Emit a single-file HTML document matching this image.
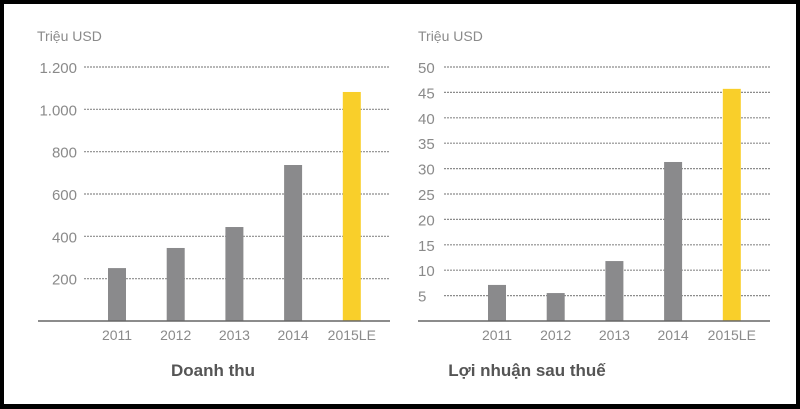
<!DOCTYPE html>
<html><head><meta charset="utf-8"><style>
html,body{margin:0;padding:0;background:#000;}
#wrap{position:relative;width:800px;height:409px;overflow:hidden;background:#000;}
svg{position:absolute;left:0;top:0;}
text{font-family:"Liberation Sans",sans-serif;}
</style></head><body>
<div id="wrap">
<svg id="svg" width="800" height="409">
<rect x="4" y="4" width="792" height="400" fill="#fff"/>
</svg>
</div>
<script>
const categories = ["2011","2012","2013","2014","2015LE"];
const revenueValues = [250, 345, 444, 737, 1082];
const profitValues = [7.1, 5.5, 11.8, 31.3, 45.7];
const revenueTicks = [200, 400, 600, 800, 1000, 1200];
const revenueTickLabels = ["200","400","600","800","1.000","1.200"];
const profitTicks = [5,10,15,20,25,30,35,40,45,50];
const profitTickLabels = ["5","10","15","20","25","30","35","40","45","50"];

const NS = "http://www.w3.org/2000/svg";
const svg = document.getElementById("svg");
function mk(tag, attrs){const e=document.createElementNS(NS,tag);for(const k in attrs)e.setAttribute(k,attrs[k]);svg.appendChild(e);return e;}

function drawChart(cfg, values, ticks, tickLabels, prefix){
  const base=321, top=67;
  const y = v => base - (v/cfg.max)*(base-top);
  const x = i => cfg.firstBar + i*58.7;
  let t=mk("text",{x:cfg.unitX,y:41,"font-size":14,fill:"#8a8a8a"});t.textContent="Triệu USD";
  
  
  ticks.forEach((v,i)=>{
    const l=mk("line",{x1:cfg.gridX1,x2:cfg.gridX2,y1:y(v),y2:y(v),stroke:"#8c8c8c","stroke-width":1.2,"stroke-dasharray":"2 1"});
    
    
    const tx=mk("text",{x:cfg.labelX,y:y(v)+6,"font-size":15,fill:"#8a8a8a","text-anchor":cfg.anchor});
    tx.textContent=tickLabels[i];
    
    
  });
  values.forEach((v,i)=>{
    const r=mk("rect",{x:x(i),y:y(v),width:18,height:base-y(v),fill:i===values.length-1?"#f9cf2a":"#8a8a8c"});
    
    
    const c=mk("text",{x:x(i)+9,y:340,"font-size":14,fill:"#8a8a8a","text-anchor":"middle"});
    c.textContent=categories[i];
    
    
  });
  const b=mk("line",{x1:cfg.baseX1,x2:cfg.gridX2,y1:base,y2:base,stroke:"#666","stroke-width":1.5});
  
  
  const tt=mk("text",{x:cfg.titleX,y:376,"font-size":17,"font-weight":"bold",fill:"#555","text-anchor":"middle"});
  tt.textContent=cfg.title;
  
  
}
drawChart({max:1200,firstBar:108,unitX:37,gridX1:84,gridX2:390,baseX1:38,labelX:77,anchor:"end",titleX:213,title:"Doanh thu"},revenueValues,revenueTicks,revenueTickLabels,"revenue");
drawChart({max:50,firstBar:488,unitX:418,gridX1:444,gridX2:770,baseX1:418,labelX:418,anchor:"start",titleX:527,title:"Lợi nhuận sau thuế"},profitValues,profitTicks,profitTickLabels,"profit");
</script>
</body></html>
